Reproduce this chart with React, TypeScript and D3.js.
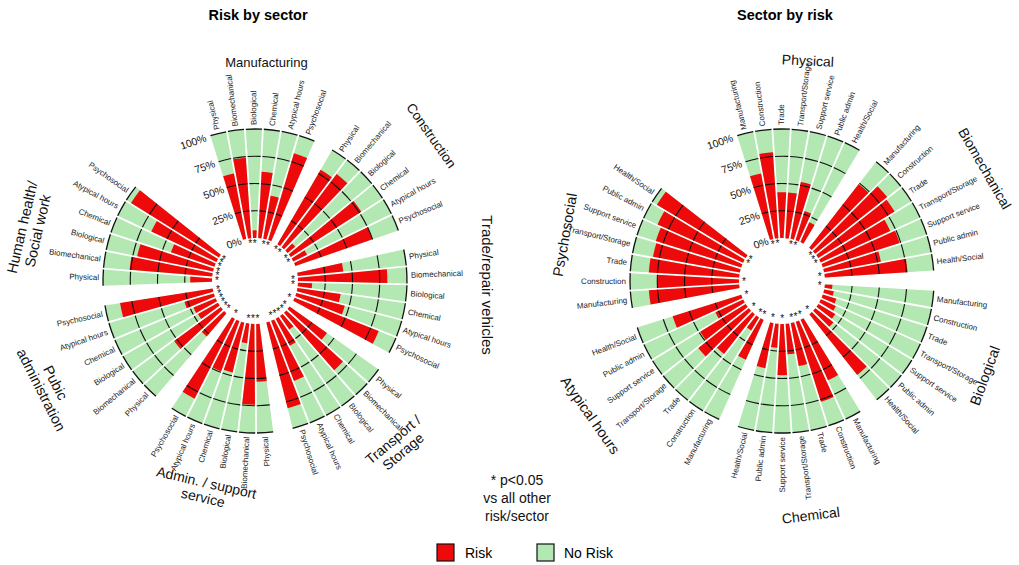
import React from 'react';
import * as d3 from 'd3';

// ---------- data ----------
const risks = ['Physical', 'Biomechanical', 'Biological', 'Chemical', 'Atypical hours', 'Psychosocial'];
const sectorGroupLabels = [
  ['Manufacturing'],
  ['Construction'],
  ['Trade/repair vehicles'],
  ['Transport /', 'Storage'],
  ['Admin. / support', 'service'],
  ['Pubic', 'administration'],
  ['Human health/', 'Social work'],
];
const sectorShort = ['Manufacturing', 'Construction', 'Trade', 'Transport/Storage', 'Support service', 'Public admin', 'Health/Social'];

// % exposed to each risk (Physical, Biomechanical, Biological, Chemical, Atypical hours, Psychosocial)
const manufacturing = [61, 74, 7, 61, 40, 83];
const construction = [79, 84, 9, 77, 14, 75];
const trade = [42, 82, 13, 40, 46, 83];
const transport = [42, 70, 15, 28, 59, 81];
const adminSupport = [53, 74, 18, 47, 49, 82];
const publicAdmin = [28, 53, 21, 22, 28, 86];
const healthSocial = [20, 76, 71, 42, 66, 95];
const sectorValues = [manufacturing, construction, trade, transport, adminSupport, publicAdmin, healthSocial];

// significance flags (* p<0.05) for the left chart (sector x risk)
const sigLeft = [
  [0, 1, 1, 0, 1, 1],
  [1, 1, 0, 1, 1, 0],
  [0, 1, 1, 0, 0, 1],
  [1, 1, 1, 1, 1, 0],
  [1, 1, 1, 0, 0, 1],
  [1, 1, 1, 1, 1, 1],
  [1, 1, 1, 1, 1, 1],
];
// significance flags for the right chart (risk x sector)
const sigRight = [
  [1, 1, 0, 0, 1, 1, 0],
  [0, 1, 1, 1, 0, 0, 1],
  [1, 0, 0, 0, 0, 0, 1],
  [1, 1, 1, 0, 1, 0, 1],
  [1, 1, 0, 1, 0, 0, 1],
  [0, 1, 0, 0, 0, 1, 1],
];
const tickValues = [0, 25, 50, 75, 100];

// ---------- style ----------
const RED = '#ee0a0a';
const GREEN = '#b3e8b3';
const FONT = "'Liberation Sans', Arial, Helvetica, sans-serif";

type Bar = { slot: number; value: number; label: string; sig: boolean };
type GroupLabel = { lines: string[]; angle: number; r: number; rot: number; size: number };

const R0 = 43;
const R1 = 152;
const A0 = -14;
const GAP = 1.8;

function polar(cx: number, cy: number, angDeg: number, r: number) {
  const a = (angDeg * Math.PI) / 180;
  return [cx + r * Math.sin(a), cy - r * Math.cos(a)];
}

function RadialChart({ cx, cy, nSlots, bars, groups, title }: { cx: number; cy: number; nSlots: number; bars: Bar[]; groups: GroupLabel[]; title: string }) {
  const step = 360 / nSlots;
  const angle = d3.scaleLinear().domain([0, nSlots]).range([A0, A0 + 360]);
  const radius = d3.scaleLinear().domain([0, 100]).range([R0, R1]);
  const half = (step * Math.PI) / 180 / 2;
  const arc = d3.arc<any>().padRadius(100).padAngle(GAP / 100);
  const gridArc = (a: number, r: number) => {
    const p = d3.path();
    const da = GAP / 2 / r;
    const s = a - half + da - Math.PI / 2;
    const e = a + half - da - Math.PI / 2;
    p.moveTo(r * Math.cos(s), r * Math.sin(s));
    p.arc(0, 0, r, s, e);
    return p.toString();
  };
  const tickAng = A0 - 0.72 * step;
  return (
    <g>
      <text x={cx + 3} y={20} textAnchor="middle" fontSize={14.5} fontWeight="bold" fontFamily={FONT}>{title}</text>
      <g transform={`translate(${cx},${cy})`}>
        {bars.map((b, i) => {
          const a = (angle(b.slot) * Math.PI) / 180;
          return (
            <g key={i}>
              <path d={arc({ innerRadius: R0, outerRadius: R1, startAngle: a - half, endAngle: a + half }) as string} fill={GREEN} />
              {b.value > 0 && (
                <path d={arc({ innerRadius: R0, outerRadius: radius(b.value), startAngle: a - half, endAngle: a + half }) as string} fill={RED} />
              )}
              {[25, 50, 75, 100].map((v) => (
                <path key={v} d={gridArc(a, radius(v))} fill="none" stroke="#111" strokeWidth={v === 100 ? 1.3 : 1.1} />
              ))}
            </g>
          );
        })}
        {bars.map((b, i) => {
          const deg = angle(b.slot);
          const flip = deg > 168;
          const [x, y] = polar(0, 0, deg, R1 + 4);
          const rot = flip ? deg + 90 : deg - 90;
          return (
            <text key={'l' + i} x={x} y={y} transform={`rotate(${rot},${x},${y})`} textAnchor={flip ? 'end' : 'start'} dominantBaseline="central" fontSize={8} fontFamily={FONT} fill="#222">
              {b.label}
            </text>
          );
        })}
        {bars.filter((b) => b.sig).map((b, i) => {
          const [x, y] = polar(0, 0, angle(b.slot), R0 - 5);
          return (
            <text key={'s' + i} x={x} y={y + 3.5} textAnchor="middle" fontSize={10} fontFamily={FONT} fill="#111">*</text>
          );
        })}
        {tickValues.map((v) => {
          const [x, y] = polar(0, 0, tickAng, radius(v));
          return (
            <text key={'t' + v} x={x} y={y} transform={`rotate(${tickAng},${x},${y})`} textAnchor="end" dominantBaseline="central" fontSize={10.5} fontFamily={FONT} fill="#111">
              {v + '%'}
            </text>
          );
        })}
        {groups.map((g, i) => {
          const [x, y] = polar(0, 0, g.angle, g.r);
          const lh = g.size * 1.1;
          const y0 = y - ((g.lines.length - 1) * lh) / 2;
          return (
            <text key={'g' + i} transform={`rotate(${g.rot},${x},${y})`} textAnchor="middle" dominantBaseline="central" fontSize={g.size} fontFamily={FONT} fill="#111">
              {g.lines.map((ln, j) => (
                <tspan key={j} x={x} y={y0 + j * lh}>{ln}</tspan>
              ))}
            </text>
          );
        })}
      </g>
    </g>
  );
}

export default function App() {
  const leftBars: Bar[] = [];
  sectorValues.forEach((vals, s) => {
    vals.forEach((v, k) => {
      leftBars.push({ slot: s * 7 + k, value: v, label: risks[k], sig: !!sigLeft[s][k] });
    });
  });
  const rightBars: Bar[] = [];
  risks.forEach((r, k) => {
    sectorShort.forEach((name, s) => {
      rightBars.push({ slot: k * 8 + s, value: sectorValues[s][k], label: name, sig: !!sigRight[k][s] });
    });
  });
  const leftGroups: GroupLabel[] = [
    { lines: sectorGroupLabels[0], angle: 3, r: 219, rot: 0, size: 13 },
    { lines: sectorGroupLabels[1], angle: 50.5, r: 229, rot: 55, size: 13.5 },
    { lines: sectorGroupLabels[2], angle: 91, r: 233, rot: 90, size: 15 },
    { lines: sectorGroupLabels[3], angle: 139, r: 218, rot: -40, size: 14 },
    { lines: sectorGroupLabels[4], angle: 193.5, r: 215, rot: 13, size: 14 },
    { lines: sectorGroupLabels[5], angle: 243, r: 232, rot: 63, size: 14.5 },
    { lines: sectorGroupLabels[6], angle: 283, r: 231, rot: -77, size: 14.5 },
  ];
  const rightGroups: GroupLabel[] = [
    { lines: [risks[0]], angle: 6.7, r: 222, rot: 3, size: 14 },
    { lines: [risks[1]], angle: 61, r: 232, rot: 60, size: 14 },
    { lines: [risks[2]], angle: 115, r: 224, rot: -70, size: 14.5 },
    { lines: [risks[3]], angle: 173, r: 236, rot: -7, size: 14 },
    { lines: [risks[4]], angle: 235, r: 234, rot: 55, size: 14.5 },
    { lines: [risks[5]], angle: 282, r: 222, rot: -80, size: 14.5 },
  ];
  return (
    <svg width={1019} height={565} style={{ position: 'absolute', left: 0, top: 0, background: '#fff' }}>
      <rect width={1019} height={565} fill="#fff" />
      <RadialChart cx={255} cy={281} nSlots={53} bars={leftBars} groups={leftGroups} title="Risk by sector" />
      <RadialChart cx={782} cy={281} nSlots={52} bars={rightBars} groups={rightGroups} title="Sector by risk" />
      <text textAnchor="middle" fontSize={14} fontFamily={FONT} fill="#111">
        <tspan x={517} y={485}>* p&lt;0.05</tspan>
        <tspan x={517} y={503}>vs all other</tspan>
        <tspan x={517} y={521}>risk/sector</tspan>
      </text>
      <rect x={437} y={544} width={17} height={17} fill={RED} stroke="#111" strokeWidth={1.2} />
      <text x={465} y={553} dominantBaseline="central" fontSize={14} fontFamily={FONT}>Risk</text>
      <rect x={537} y={544} width={17} height={17} fill={GREEN} stroke="#111" strokeWidth={1.2} />
      <text x={564} y={553} dominantBaseline="central" fontSize={14} fontFamily={FONT}>No Risk</text>
    </svg>
  );
}
